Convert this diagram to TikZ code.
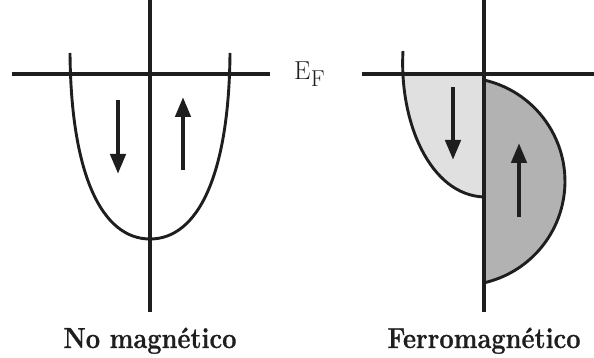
\documentclass[tikz,border=0pt]{standalone}
\usepackage{fontspec}
\usepackage{graphicx}
\usetikzlibrary{arrows.meta}
\newfontfamily\labfont{Latin Modern Roman}[BoldFeatures={FakeBold=0.8}]
\definecolor{linec}{HTML}{1E1E1E}
\definecolor{lightfill}{HTML}{E0E0E0}
\definecolor{darkfill}{HTML}{B2B2B2}
\tikzset{
  axisline/.style={draw=linec, line width=3.2pt},
  curveline/.style={draw=linec, line width=2.9pt},
  spinarrow/.style={draw=linec, line width=4.4pt, -{Triangle[width=15pt,length=20pt]}},
  lab/.style={inner sep=0pt, font=\fontsize{29}{34}\selectfont\labfont\bfseries, text=linec},
}
\begin{document}
\begin{tikzpicture}[x=1pt, y=-1pt]
\useasboundingbox (0,0) rectangle (594,358);
% ---------- left panel: non-magnetic ----------
\draw[axisline] (12,74) -- (270,74);
\draw[axisline] (150,0) -- (150,312);
\draw[curveline] (70,53) .. controls (71,175) and (102,239) .. (150,239)
                          .. controls (198,239) and (229,175) .. (230,53);
\draw[spinarrow] (118,100) -- (118,174);
\draw[spinarrow] (183,170) -- (183,97);
% ---------- right panel: ferromagnetic ----------
\begin{scope}
  \clip (0,74) rectangle (594,358);
  \fill[lightfill] (403,51) .. controls (399,122) and (430,195) .. (484,197) -- (484,51) -- cycle;
\end{scope}
\fill[darkfill] (484,80) arc[start angle=-77.2, end angle=77.2, radius=104] -- cycle;
\draw[curveline] (403,51) .. controls (399,122) and (430,195) .. (484,197);
\draw[curveline] (484,80) arc[start angle=-77.2, end angle=77.2, radius=104];
\draw[axisline] (362,74) -- (594,74);
\draw[axisline] (484,0) -- (484,312);
\draw[spinarrow] (453,87) -- (453,160);
\draw[spinarrow] (519,217) -- (519,143);
% ---------- labels ----------
\node[inner sep=0pt, anchor=base west, text=linec, font=\fontsize{26}{30}\selectfont] (eE) at (294,80) {E};
\node[inner sep=0pt, anchor=base west, text=linec, font=\fontsize{23}{27}\selectfont] (eF) at (eE.base east) [yshift=-6.5pt] {F};
\node[lab, anchor=base] (nomag) at (150,348) {\scalebox{0.875}[1]{No magnético}};
\node[lab, anchor=base] (ferro) at (484,348) {\scalebox{0.875}[1]{Ferromagnético}};
\end{tikzpicture}
\end{document}
